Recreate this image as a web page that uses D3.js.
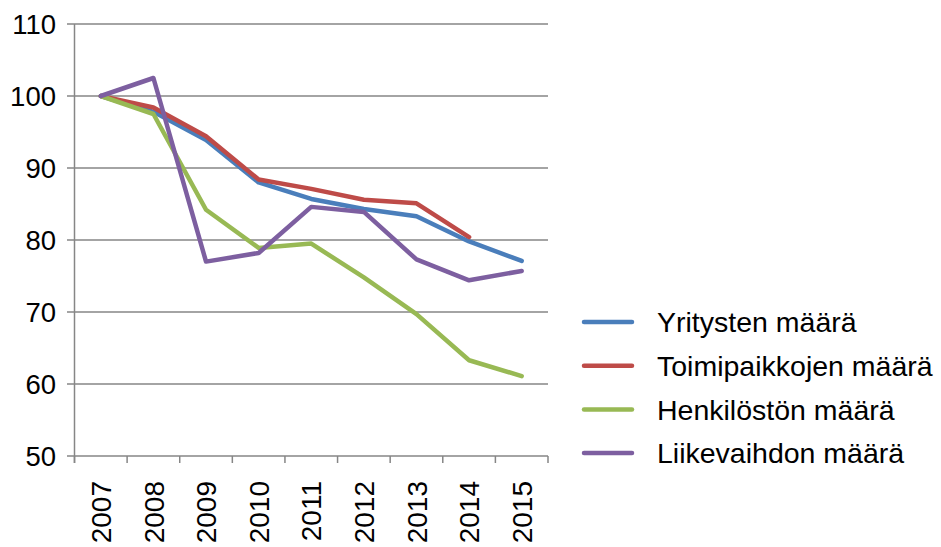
<!DOCTYPE html>
<html>
<head>
<meta charset="utf-8">
<script src="https://cdn.jsdelivr.net/npm/d3@7"></script>
<style>
  body { margin: 0; background: #fff; }
  svg text { font-family: "Liberation Sans", Arial, sans-serif; fill: #000; }
</style>
</head>
<body>
<svg id="chart" width="941" height="547"></svg>
<script>
// chart data
var years = ["2007", "2008", "2009", "2010", "2011", "2012", "2013", "2014", "2015"];
var yTicks = [50, 60, 70, 80, 90, 100, 110];
var seriesNames = ["Yritysten määrä", "Toimipaikkojen määrä", "Henkilöstön määrä", "Liikevaihdon määrä"];
var seriesColors = ["#4a7ebb", "#be4b48", "#98b954", "#7d5fa0"];
var yritykset = [100, 97.8, 93.9, 88.0, 85.7, 84.3, 83.3, 79.8, 77.1];
var toimipaikat = [100, 98.4, 94.4, 88.4, 87.1, 85.6, 85.1, 80.4, null];
var henkilosto = [100, 97.5, 84.2, 78.9, 79.5, 74.8, 69.7, 63.3, 61.1];
var liikevaihto = [100, 102.5, 77.0, 78.2, 84.6, 83.9, 77.3, 74.4, 75.7];

var seriesValues = [yritykset, toimipaikat, henkilosto, liikevaihto];

var svg = d3.select("#chart");
var plot = { left: 74.5, right: 548, top: 24, bottom: 456 };

var x = d3.scaleBand().domain(years).range([plot.left, plot.right]);
var y = d3.scaleLinear().domain([50, 110]).range([plot.bottom, plot.top]);

// horizontal gridlines
svg.append("g")
    .selectAll("line")
    .data(yTicks)
    .enter().append("line")
    .attr("x1", plot.left - 7.5)
    .attr("x2", plot.right)
    .attr("y1", function (d) { return y(d); })
    .attr("y2", function (d) { return y(d); })
    .attr("stroke", "#868686")
    .attr("stroke-width", 1.5);

// y axis line
svg.append("line")
    .attr("x1", plot.left).attr("x2", plot.left)
    .attr("y1", plot.top).attr("y2", plot.bottom + 7)
    .attr("stroke", "#868686")
    .attr("stroke-width", 1.5);

// x tick marks at band edges
var edges = years.map(function (d) { return x(d); }).concat([plot.right]);
svg.append("g")
    .selectAll("line")
    .data(edges)
    .enter().append("line")
    .attr("x1", function (d) { return d; })
    .attr("x2", function (d) { return d; })
    .attr("y1", plot.bottom)
    .attr("y2", plot.bottom + 7)
    .attr("stroke", "#868686")
    .attr("stroke-width", 1.5);

// y tick labels
svg.append("g")
    .selectAll("text")
    .data(yTicks)
    .enter().append("text")
    .attr("x", 56)
    .attr("y", function (d) { return y(d); })
    .attr("dy", "0.36em")
    .attr("text-anchor", "end")
    .style("font-size", "27.5px")
    .text(function (d) { return d; });

// x tick labels, rotated
svg.append("g")
    .selectAll("text")
    .data(years)
    .enter().append("text")
    .attr("transform", function (d) {
        return "translate(" + (x(d) + x.bandwidth() / 2) + "," + 481 + ") rotate(-90)";
    })
    .attr("dy", "0.36em")
    .attr("text-anchor", "end")
    .style("font-size", "28px")
    .text(function (d) { return d; });

// series lines
var line = d3.line()
    .defined(function (d) { return d != null; })
    .x(function (d, i) { return x(years[i]) + x.bandwidth() / 2; })
    .y(function (d) { return y(d); });

svg.append("g")
    .selectAll("path")
    .data(seriesValues)
    .enter().append("path")
    .attr("d", line)
    .attr("fill", "none")
    .attr("stroke", function (d, i) { return seriesColors[i]; })
    .attr("stroke-width", 4.5)
    .attr("stroke-linejoin", "round")
    .attr("stroke-linecap", "round");

// legend
var legend = svg.append("g")
    .selectAll("g")
    .data(seriesNames)
    .enter().append("g")
    .attr("transform", function (d, i) { return "translate(0," + (322 + i * 43.7) + ")"; });

legend.append("line")
    .attr("x1", 584).attr("x2", 632)
    .attr("y1", 0).attr("y2", 0)
    .attr("stroke", function (d, i) { return seriesColors[i]; })
    .attr("stroke-width", 4.5)
    .attr("stroke-linecap", "round");

legend.append("text")
    .attr("x", 657)
    .attr("dy", "0.36em")
    .style("font-size", "28.5px")
    .text(function (d) { return d; });
</script>
</body>
</html>
